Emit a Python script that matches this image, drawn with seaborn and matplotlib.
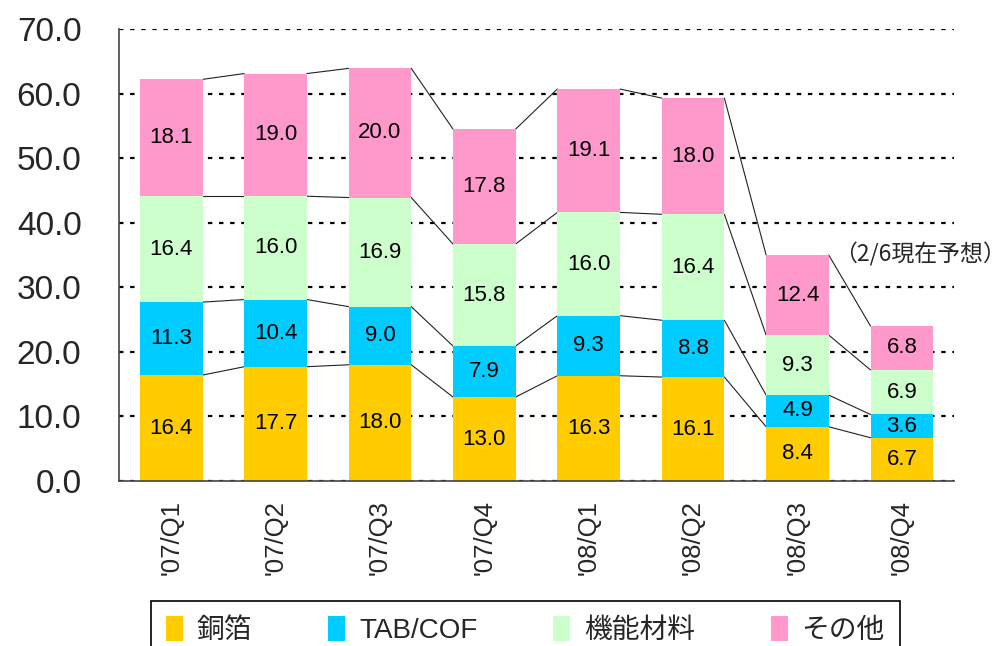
import matplotlib
matplotlib.use("Agg")
import matplotlib.pyplot as plt
from matplotlib.patches import Patch
from matplotlib.ticker import FixedLocator, FormatStrFormatter
import numpy as np
import seaborn as sns

quarters = ["'07/Q1", "'07/Q2", "'07/Q3", "'07/Q4", "'08/Q1", "'08/Q2", "'08/Q3", "'08/Q4"]
series_names = ["銅箔", "TAB/COF", "機能材料", "その他"]
copper = [16.4, 17.7, 18.0, 13.0, 16.3, 16.1, 8.4, 6.7]
tab_cof = [11.3, 10.4, 9.0, 7.9, 9.3, 8.8, 4.9, 3.6]
functional = [16.4, 16.0, 16.9, 15.8, 16.0, 16.4, 9.3, 6.9]
others = [18.1, 19.0, 20.0, 17.8, 19.1, 18.0, 12.4, 6.8]
colors = ["#FFCC00", "#00CCFF", "#CCFFCC", "#FF99CC"]
note = "（2/6現在予想）"

sns.set_style("white")
plt.rcParams['font.family'] = ['Liberation Sans', 'Noto Sans CJK JP', 'DejaVu Sans']

values = np.array([copper, tab_cof, functional, others])
cum = values.cumsum(axis=0)
bottoms = cum - values

fig = plt.figure(figsize=(10.07, 6.46), dpi=100)
ax = fig.add_axes([119 / 1007, 1 - 481 / 646, 835 / 1007, 452 / 646])

# stacked bars: draw cumulative totals from top layer down
for k in range(3, -1, -1):
    sns.barplot(x=quarters, y=cum[k], color=colors[k], width=0.6, saturation=1,
                linewidth=0, ax=ax, zorder=2)

# connector lines between bar edges
bw = 0.3
for k in range(4):
    for i in range(len(quarters) - 1):
        ax.plot([i + bw, i + 1 - bw], [cum[k][i], cum[k][i + 1]], color="#222222",
                lw=0.8, zorder=1.5)

# value labels
for k in range(4):
    for i in range(len(quarters)):
        ax.text(i, bottoms[k][i] + values[k][i] / 2, f"{values[k][i]:.1f}",
                ha="center", va="center", fontsize=16, color="black", zorder=3)

ax.set_xlim(-0.5, 7.5)
ax.set_ylim(0, 70)
ax.yaxis.set_major_locator(FixedLocator(np.arange(0, 71, 10)))
ax.yaxis.set_major_formatter(FormatStrFormatter("%.1f"))
ax.set_axisbelow(True)
ax.yaxis.grid(True, linestyle=(0, (2, 3)), color="black", lw=1.6)
ax.xaxis.grid(False)
ax.tick_params(axis="y", direction="in", length=8, width=1, color="#444444",
               labelsize=24, pad=27)
ax.set_xticks(range(len(quarters)))
ax.set_xticklabels(quarters, rotation=90, fontsize=18.5)
ax.set_xticks(np.arange(-0.5, 8, 1), minor=True)
ax.tick_params(axis="x", which="major", length=0, pad=14)
ax.tick_params(axis="x", which="minor", direction="in", length=8, width=1, color="#444444")
ax.set_xlabel("")
ax.set_ylabel("")
for s in ["top", "right"]:
    ax.spines[s].set_visible(False)
for s in ["left", "bottom"]:
    ax.spines[s].set_color("#444444")
    ax.spines[s].set_linewidth(1.2)

ax.text(834 / 1007, 1 - 254 / 646, note, transform=fig.transFigure, ha="left",
        va="center", fontsize=16.5, family=['Noto Sans CJK JP', 'DejaVu Sans'])

handles = [Patch(facecolor=c, edgecolor="none") for c in colors]
leg = fig.legend(handles, series_names, loc="upper left",
                 bbox_to_anchor=(151 / 1007, 1 - 601 / 646, 749 / 1007, 0),
                 mode="expand", ncol=4, frameon=True, fancybox=False,
                 edgecolor="black", framealpha=1, borderpad=0.55, borderaxespad=0,
                 handlelength=0.6, handleheight=1.0, handletextpad=0.5,
                 prop={"size": 20})
leg.get_frame().set_linewidth(1.2)

fig.savefig("out.png", dpi=100)
